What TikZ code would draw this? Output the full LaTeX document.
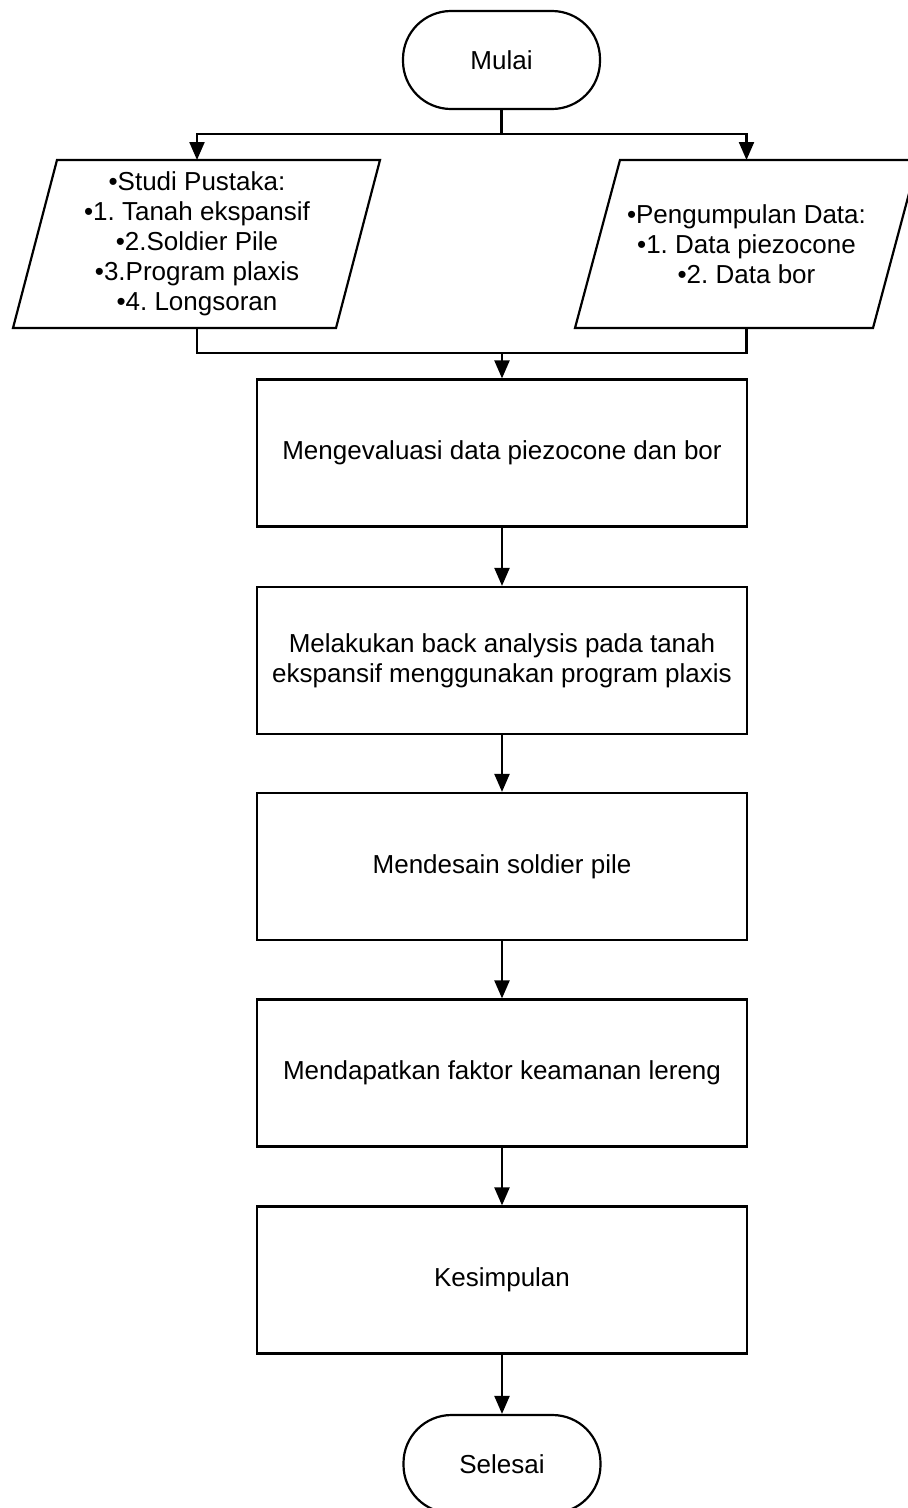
\documentclass[tikz,border=0pt]{standalone}
\usepackage{fontspec}
\setmainfont{Liberation Sans}
\usetikzlibrary{arrows.meta,positioning,calc,shapes.geometric}
\frenchspacing

\begin{document}
\begin{tikzpicture}[
    x=1pt, y=-1pt,
    line width=2.2pt,
    font=\fontsize{26}{30}\selectfont,
    >={Triangle[length=18pt,width=15pt]},
    terminal/.style={draw, rectangle, rounded corners=48pt, minimum width=197pt, minimum height=98pt},
    iotext/.style={align=center, inner sep=0pt},
    process/.style={draw, rectangle, minimum width=490pt, minimum height=147pt, align=center},
    link/.style={-},
    msg/.style={->}
]
    \useasboundingbox (0,0) rectangle (908,1508);

    % --- Start ---
    \node[terminal] (Mulai) at (501.5,60) {Mulai};

    % --- Inputs (parallelograms) ---
    \node[iotext] (Studi) at (197,244) {•Studi Pustaka:\\ •1. Tanah ekspansif\\ •2.Soldier Pile\\ •3.Program plaxis\\ •4. Longsoran};
    \draw ($(Studi)+(-184,84)$) coordinate (StudiBL) -- ++(323,0) -- ++(44,-168) -- ++(-323,0) coordinate (StudiTL) -- cycle;

    \node[iotext] (Data) at (746.5,244) {•Pengumpulan Data:\\ •1. Data piezocone\\ •2. Data bor};
    \draw ($(Data)+(-171.5,84)$) coordinate (DataBL) -- ++(298,0) -- ++(45,-168) -- ++(-298,0) coordinate (DataTL) -- cycle;

    % --- Process steps ---
    \node[process] (Evaluasi) at (502,453) {Mengevaluasi data piezocone dan bor};
    \node[process] (Analisis) at (502,660.5) {Melakukan back analysis pada tanah\\ ekspansif menggunakan program plaxis};
    \node[process] (Desain) at (502,866.5) {Mendesain soldier pile};
    \node[process] (Faktor) at (502,1073) {Mendapatkan faktor keamanan lereng};
    \node[process] (Kesimpulan) at (502,1280) {Kesimpulan};

    % --- End ---
    \node[terminal] (Selesai) at (502,1464) {Selesai};

    % --- Split and merge ---
    \coordinate (Split) at (501.5,134);
    \coordinate (Merge) at (502,353);
    \draw[link] (Mulai) -- (Split);
    \draw[msg] (Split) -| (Studi |- StudiTL);
    \draw[msg] (Split) -| (Data |- DataTL);
    \draw[link] (Studi |- StudiBL) |- (Merge);
    \draw[link] (Data |- DataBL) |- (Merge);
    \draw[msg] (Merge) -- (Evaluasi);

    % --- Main flow ---
    \draw[msg] (Evaluasi) -- (Analisis);
    \draw[msg] (Analisis) -- (Desain);
    \draw[msg] (Desain) -- (Faktor);
    \draw[msg] (Faktor) -- (Kesimpulan);
    \draw[msg] (Kesimpulan) -- (Selesai);

\end{tikzpicture}
\end{document}
